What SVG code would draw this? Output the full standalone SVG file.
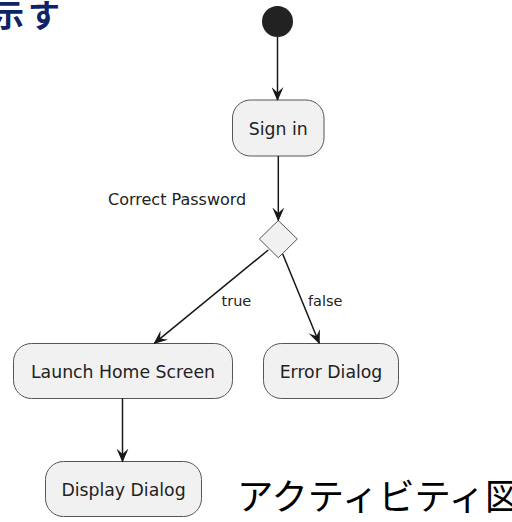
<svg xmlns="http://www.w3.org/2000/svg" width="512" height="522" viewBox="0 0 512 522">
<style>
.node rect{fill:#F1F1F1;stroke:#555;stroke-width:1}
.nt{font-family:"DejaVu Sans",Verdana,sans-serif;font-size:17.3px;fill:#222;text-anchor:middle}
.lt{font-family:"DejaVu Sans",Verdana,sans-serif;font-size:14.5px;fill:#222}
.conn line{stroke:#181818;stroke-width:1.5;fill:none}
</style>
<defs>
<marker id="arr" markerUnits="userSpaceOnUse" viewBox="0 0 14 12" refX="13" refY="6" markerWidth="14" markerHeight="12" orient="auto">
<path d="M0,0 L14,6 L0,12 L5.5,6 Z" fill="#181818"/>
</marker>
</defs>
<rect width="512" height="522" fill="#fff"/>
<text x="-8" y="27" font-family="'Noto Sans CJK JP',sans-serif" font-weight="bold" font-size="32" letter-spacing="4" fill="#0E2466">示す</text>
<g id="start"><circle cx="277.5" cy="21.5" r="15.5" fill="#222"/></g>
<g id="signin" class="node"><rect x="232.5" y="100" width="91.5" height="56" rx="18"/><text class="nt" x="278.2" y="134.5">Sign in</text></g>
<g id="decision"><polygon points="278.3,220.5 297.3,239 278.3,257.7 259.3,239" fill="#F1F1F1" stroke="#555" stroke-width="1"/><text class="lt" x="108" y="205" style="font-size:16px">Correct Password</text></g>
<g id="launch" class="node"><rect x="13.5" y="343.5" width="219" height="55" rx="18"/><text class="nt" x="123" y="378">Launch Home Screen</text></g>
<g id="error" class="node"><rect x="263.5" y="343.5" width="135" height="55" rx="18"/><text class="nt" x="331" y="378">Error Dialog</text></g>
<g id="display" class="node"><rect x="45.5" y="461.5" width="156" height="55" rx="18"/><text class="nt" x="123.5" y="496">Display Dialog</text></g>
<g id="connectors" class="conn">
<line x1="277.5" y1="37" x2="277.5" y2="100" marker-end="url(#arr)"/>
<line x1="278.3" y1="156" x2="278.3" y2="220.5" marker-end="url(#arr)"/>
<line x1="268.3" y1="250" x2="154.3" y2="343.3" marker-end="url(#arr)"/>
<line x1="282.7" y1="254" x2="319.3" y2="343.3" marker-end="url(#arr)"/>
<line x1="122.5" y1="398.5" x2="122.5" y2="461.5" marker-end="url(#arr)"/>
</g>
<text class="lt" x="221.5" y="306">true</text>
<text class="lt" x="308" y="306">false</text>
<text x="237" y="510" font-family="'Noto Sans CJK JP',sans-serif" font-size="36.3" fill="#000">アクティビティ図</text>
</svg>
